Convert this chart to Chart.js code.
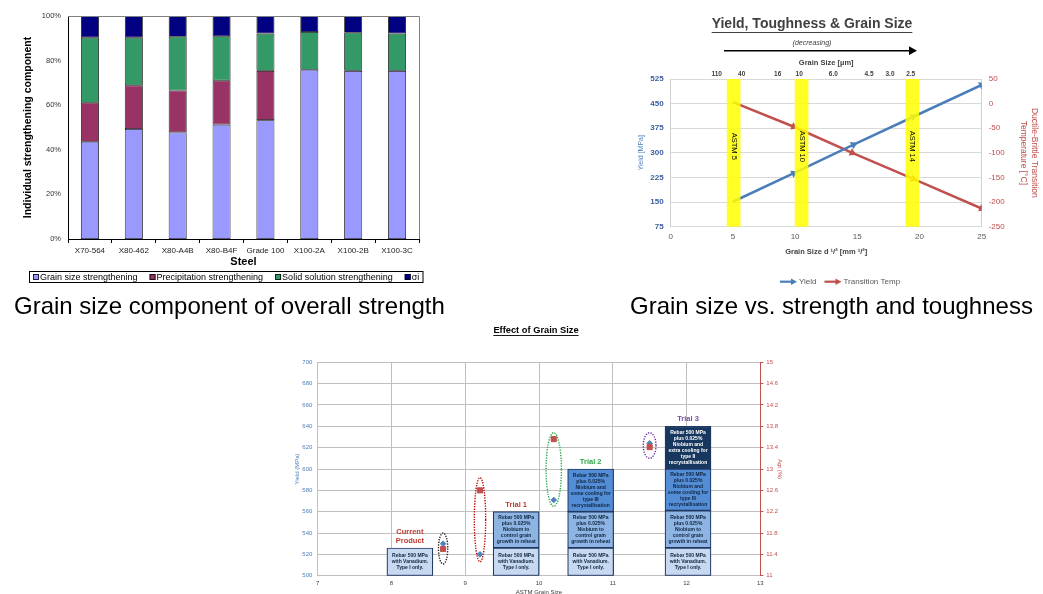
<!DOCTYPE html>
<html><head><meta charset="utf-8">
<script src="https://cdn.jsdelivr.net/npm/chart.js@4.4.1/dist/chart.umd.min.js"></script>
<style>
html,body{margin:0;padding:0;background:#fff;width:1043px;height:594px;overflow:hidden;position:relative;font-family:"Liberation Sans",Arial,sans-serif;}
canvas{position:absolute;}
.cap{position:absolute;font-size:24px;line-height:24px;white-space:nowrap;color:#000;}
</style></head><body>
<canvas id="c1" width="450" height="292" style="left:0;top:0"></canvas>
<canvas id="c2" width="423" height="292" style="left:620px;top:0"></canvas>
<canvas id="c3" width="510" height="280" style="left:280px;top:318px"></canvas>
<div class="cap" style="left:14px;top:294px">Grain size component of overall strength</div>
<div class="cap" style="left:630px;top:294px">Grain size vs. strength and toughness</div>
<script>
// ---------- Chart 1 data ----------
const steels = ['X70-564','X80-462','X80-A4B','X80-B4F','Grade 100','X100-2A','X100-2B','X100-3C'];
const grainSizeStr = [43.6, 49.3, 47.8, 51.3, 53.3, 75.9, 75.4, 75.4];
const precipStr    = [17.5, 19.6, 18.8, 19.7, 22.1, 0, 0, 0];
const solidSolStr  = [29.2, 21.4, 24.1, 19.9, 16.7, 16.9, 17.1, 16.7];
const sigmaI       = [9.7, 9.7, 9.3, 9.1, 7.9, 7.2, 7.5, 7.9];
const pctTicks     = [0, 20, 40, 60, 80, 100];

// ---------- Chart 2 data ----------
const yieldX     = [5, 9.9, 14.7, 19.5, 25];
const yieldMPa   = [151, 238, 325, 410, 507];
const ttX        = [5, 9.9, 14.6, 19.5, 25];
const transTemp  = [3, -47, -100, -153, -213];
const astmBandX  = [5.06, 10.52, 19.42];
const astmBandY  = [75, 525];
const astmBandLabels = ['ASTM 5', 'ASTM 10', 'ASTM 14'];
const grainUmPos    = [3.7, 5.71, 8.6, 10.33, 13.07, 15.94, 17.63, 19.29];
const grainUmLabels = ['110', '40', '16', '10', '6.0', '4.5', '3.0', '2.5'];

// ---------- Chart 3 data ----------
const trialX     = [8.25, 9.69, 10.70, 12.02];
const trialNames = [['Current', 'Product'], ['Trial 1'], ['Trial 2'], ['Trial 3']];
const level1 = [[500,526],[500,526],[500,526],[500,526]];
const level2 = [null,[526,560],[526,560],[526,561]];
const level3 = [null,null,[560,600],[561,600]];
const level4 = [null,null,null,[600,640]];
const levelText = [
  ['Rebar 500 MPa','with Vanadium.','Type I only.'],
  ['Rebar 500 MPa','plus 0.025%','Niobium to','control grain','growth in reheat'],
  ['Rebar 500 MPa','plus 0.025%','Niobium and','some cooling for','type III','recrystallisation'],
  ['Rebar 500 MPa','plus 0.025%','Niobium and','extra cooling for','type II','recrystallisation']
];
const pointX   = [8.7, 9.2, 10.2, 11.5];
const yieldPts = [530, 520, 571, 624];
const agtPts   = [11.5, 12.6, 13.56, 13.41];
const ringLow  = [511, 513, 565, 610];
const ringHigh = [540, 592, 634, 634];
const ringHalfW = [0.063, 0.077, 0.104, 0.086];

Chart.defaults.font.family = '"Liberation Sans", Arial, sans-serif';

// ================= Chart 1 =================
const c1Colors = ['#9999FF', '#993366', '#339966', '#000080'];
const legend1 = {
  id: 'legend1',
  afterDraw(chart) {
    const ctx = chart.ctx;
    ctx.save();
    ctx.strokeStyle = '#000'; ctx.lineWidth = 1;
    ctx.strokeRect(29.5, 271.5, 393.5, 11);
    ctx.font = '9px "Liberation Sans", Arial, sans-serif';
    ctx.textBaseline = 'middle';
    let x = 33; const y = 277;
    chart.data.datasets.forEach(ds => {
      ctx.fillStyle = ds.backgroundColor;
      ctx.fillRect(x, y - 3, 6, 6);
      ctx.strokeStyle = '#000'; ctx.lineWidth = 0.8;
      ctx.strokeRect(x + 0.5, y - 2.5, 5, 5);
      ctx.fillStyle = '#000';
      ctx.fillText(ds.label, x + 7, y + 0.5);
      x += 7 + ctx.measureText(ds.label).width + 12;
    });
    ctx.restore();
  }
};
const frame1 = {
  id: 'frame1',
  afterDraw(chart) {
    const a = chart.chartArea, ctx = chart.ctx;
    ctx.save(); ctx.strokeStyle = '#808080'; ctx.lineWidth = 1;
    ctx.beginPath();
    ctx.moveTo(a.left, a.top + 0.5); ctx.lineTo(a.right + 0.5, a.top + 0.5); ctx.lineTo(a.right + 0.5, a.bottom);
    ctx.stroke(); ctx.restore();
  }
};
new Chart(document.getElementById('c1'), {
  type: 'bar',
  data: { labels: steels, datasets: [
    { label: 'Grain size strengthening', data: grainSizeStr, backgroundColor: c1Colors[0] },
    { label: 'Precipitation strengthening', data: precipStr, backgroundColor: c1Colors[1] },
    { label: 'Solid solution strengthening', data: solidSolStr, backgroundColor: c1Colors[2] },
    { label: 'σi', data: sigmaI, backgroundColor: c1Colors[3] }
  ]},
  options: {
    responsive: false, animation: false,
    layout: { padding: { left: 22, right: 31, top: 16, bottom: 23 } },
    datasets: { bar: { borderColor: '#000', borderWidth: 0.8, borderSkipped: false, barPercentage: 0.41, categoryPercentage: 1 } },
    plugins: { legend: { display: false }, tooltip: { enabled: false } },
    scales: {
      x: { stacked: true, afterFit: s => { s.height = 30; },
        grid: { display: true, offset: true, drawOnChartArea: false, drawTicks: true, tickLength: 4, color: '#000' },
        border: { color: '#000' },
        ticks: { font: { size: 8 }, color: '#222', padding: 3, maxRotation: 0, autoSkip: false },
        title: { display: true, text: 'Steel', font: { size: 11, weight: 'bold' }, color: '#000', padding: 0 } },
      y: { stacked: true, min: 0, max: 100,
        afterBuildTicks: s => { s.ticks = pctTicks.map(v => ({ value: v })); },
        afterFit: s => { s.width = 46; },
        grid: { display: false, drawTicks: false }, border: { color: '#000' },
        ticks: { callback: v => v + '%', font: { size: 7.5 }, color: '#333', padding: 7 },
        title: { display: true, text: 'Individual strengthening component', font: { size: 10.5, weight: 'bold' }, color: '#000', padding: 0 } }
    }
  },
  plugins: [legend1, frame1]
});

// ================= Chart 2 =================
const blue2 = '#4A7EBB', red2 = '#C0504D';
function arrowRot(ctx) {
  const d = ctx.dataset.data, i = ctx.dataIndex;
  const j = i === 0 ? 1 : i;
  const xs = ctx.chart.scales.x, ys = ctx.chart.scales[ctx.dataset.yAxisID];
  const dx = xs.getPixelForValue(d[j].x) - xs.getPixelForValue(d[j-1].x);
  const dy = ys.getPixelForValue(d[j].y) - ys.getPixelForValue(d[j-1].y);
  return Math.atan2(dy, dx) * 180 / Math.PI + 90;
}
function drawArrow(ctx, x1, x2, y, color, lw, head) {
  ctx.save();
  ctx.strokeStyle = color; ctx.fillStyle = color; ctx.lineWidth = lw;
  ctx.beginPath(); ctx.moveTo(x1, y); ctx.lineTo(x2 - head * 0.6, y); ctx.stroke();
  ctx.beginPath(); ctx.moveTo(x2, y); ctx.lineTo(x2 - head, y - head * 0.55); ctx.lineTo(x2 - head, y + head * 0.55); ctx.closePath(); ctx.fill();
  ctx.restore();
}
const decor2 = {
  id: 'decor2',
  afterDraw(chart) {
    const ctx = chart.ctx;
    ctx.save();
    ctx.fillStyle = '#404040';
    ctx.font = 'bold 14px "Liberation Sans", Arial, sans-serif';
    ctx.textAlign = 'center'; ctx.textBaseline = 'middle';
    const title = 'Yield, Toughness & Grain Size';
    ctx.fillText(title, 192, 24);
    const w = ctx.measureText(title).width;
    ctx.strokeStyle = '#404040'; ctx.lineWidth = 1.2;
    ctx.beginPath(); ctx.moveTo(192 - w / 2, 32.5); ctx.lineTo(192 + w / 2, 32.5); ctx.stroke();
    ctx.font = 'italic 7px "Liberation Sans", Arial, sans-serif';
    ctx.fillText('(decreasing)', 192, 43);
    ctx.restore();
    drawArrow(ctx, 104, 297, 50.7, '#000', 1.6, 8);
    ctx.save();
    ctx.font = '8px "Liberation Sans", Arial, sans-serif';
    ctx.textBaseline = 'middle'; ctx.fillStyle = '#595959';
    let x = 160; const y = 281.7;
    chart.data.datasets.filter(d => d.type === 'line').forEach(ds => {
      drawArrow(ctx, x, x + 17, y, ds.borderColor, 2.2, 6);
      ctx.fillStyle = '#595959';
      ctx.fillText(ds.label, x + 19, y);
      x += 19 + ctx.measureText(ds.label).width + 8;
    });
    ctx.restore();
  },
  afterDatasetsDraw(chart) {
    const ctx = chart.ctx;
    const meta = chart.getDatasetMeta(0);
    const yv = chart.scales.yL.getPixelForValue(320);
    ctx.save();
    ctx.font = '7.5px "Liberation Sans", Arial, sans-serif';
    ctx.fillStyle = '#000'; ctx.textAlign = 'center'; ctx.textBaseline = 'middle';
    meta.data.forEach((el, i) => {
      ctx.save(); ctx.translate(el.x, yv); ctx.rotate(Math.PI / 2);
      ctx.fillText(astmBandLabels[i], 0, 0); ctx.restore();
    });
    ctx.restore();
  }
};
new Chart(document.getElementById('c2'), {
  type: 'scatter',
  data: { datasets: [
    { type: 'bar', label: 'ASTM', data: astmBandX.map(x => ({ x, y: astmBandY })), xAxisID: 'x', yAxisID: 'yL',
      backgroundColor: 'rgba(255,255,0,0.85)', borderWidth: 0, barThickness: 13, grouped: false, order: 0 },
    { type: 'line', label: 'Yield', data: yieldX.map((x, i) => ({ x, y: yieldMPa[i] })), xAxisID: 'x', yAxisID: 'yL',
      borderColor: blue2, backgroundColor: blue2, borderWidth: 2.5, pointStyle: 'triangle',
      pointRadius: c => c.dataIndex === 0 ? 0 : 4.5, pointBorderWidth: 0, pointRotation: arrowRot, order: 1 },
    { type: 'line', label: 'Transition Temp', data: ttX.map((x, i) => ({ x, y: transTemp[i] })), xAxisID: 'x', yAxisID: 'yR',
      borderColor: red2, backgroundColor: red2, borderWidth: 2.5, pointStyle: 'triangle',
      pointRadius: c => c.dataIndex === 0 ? 0 : 4.5, pointBorderWidth: 0, pointRotation: arrowRot, order: 2 }
  ]},
  options: {
    responsive: false, animation: false,
    layout: { padding: { left: 16.5, right: 3.9, top: 55, bottom: 31.3 } },
    plugins: { legend: { display: false }, tooltip: { enabled: false } },
    scales: {
      x: { type: 'linear', position: 'bottom', min: 0, max: 25, offset: false,
        grid: { display: false, drawTicks: false, offset: false }, border: { display: false },
        ticks: { stepSize: 5, font: { size: 8 }, color: '#595959', padding: 5 },
        title: { display: true, text: 'Grain Size d ¹/² [mm ¹/²]', font: { size: 7.5, weight: 'bold' }, color: '#404040', padding: { top: 0, bottom: 4 } },
        afterFit: s => { s.height = 34; } },
      xTop: { type: 'linear', position: 'top', min: 0, max: 25, offset: false,
        grid: { display: false, drawTicks: false, offset: false }, border: { display: false },
        afterBuildTicks: s => { s.ticks = grainUmPos.map(v => ({ value: v })); },
        ticks: { autoSkip: false, maxRotation: 0, callback: (v, i) => grainUmLabels[i], font: { size: 6.5, weight: 'bold' }, color: '#404040', padding: 1 },
        title: { display: true, text: 'Grain Size [µm]', font: { size: 7.5, weight: 'bold' }, color: '#404040', padding: { top: 3, bottom: 0 } },
        afterFit: s => { s.height = 24; } },
      yL: { type: 'linear', position: 'left', min: 75, max: 525,
        ticks: { stepSize: 75, font: { size: 8, weight: 'bold' }, color: '#3B5E9E', padding: 7 },
        grid: { color: '#D9D9D9', drawTicks: false }, border: { color: '#D0D0D0' },
        title: { display: true, text: 'Yield [MPa]', font: { size: 7 }, color: blue2, padding: 0 },
        afterFit: s => { s.width = 34.2; } },
      yR: { type: 'linear', position: 'right', min: -250, max: 50,
        ticks: { stepSize: 50, font: { size: 8 }, color: red2, padding: 7 },
        grid: { display: false, drawTicks: false }, border: { color: '#D0D0D0' },
        title: { display: true, text: ['Ductile-Brittle Transition', 'Temperature [°C]'], font: { size: 8.5 }, color: red2, padding: 0 },
        afterFit: s => { s.width = 57.4; } }
    }
  },
  plugins: [decor2]
});

// ================= Chart 3 =================
const levelFill = ['#C6D9F1', '#8DB4E2', '#538DD5', '#17375E'];
const levelInk  = ['#10253F', '#10253F', '#10253F', '#FFFFFF'];
const trialColors = ['#C0392B', '#C0392B', '#2EA84A', '#7A4FA8'];
const ringColors  = ['#222222', '#C00000', '#2EA84A', '#7030A0'];
const levels = [level1, level2, level3, level4];
const barSets = levels.map((lv, k) => ({
  type: 'bar', label: 'Level ' + (k + 1),
  data: lv.map((r, i) => r ? { x: trialX[i], y: r } : null).filter(Boolean),
  backgroundColor: levelFill[k], borderColor: '#1F3864', borderWidth: 1.2, borderSkipped: false,
  barThickness: 46, grouped: false, order: 5, xAxisID: 'x', yAxisID: 'y'
}));
const decor3 = {
  id: 'decor3',
  afterDatasetsDraw(chart) {
    const ctx = chart.ctx, xs = chart.scales.x, ys = chart.scales.y;
    ctx.save();
    ctx.textAlign = 'center'; ctx.textBaseline = 'middle';
    ctx.font = 'bold 5px "Liberation Sans", Arial, sans-serif';
    levels.forEach((lv, k) => {
      const meta = chart.getDatasetMeta(k);
      meta.data.forEach(el => {
        const lines = levelText[k];
        const cy = (el.y + el.base) / 2, lh = 6;
        ctx.fillStyle = levelInk[k];
        lines.forEach((t, j) => ctx.fillText(t, el.x, cy + (j - (lines.length - 1) / 2) * lh));
      });
    });
    ctx.font = 'bold 7.5px "Liberation Sans", Arial, sans-serif';
    trialX.forEach((tx, i) => {
      const top = Math.max(...levels.map(lv => lv[i] ? lv[i][1] : -Infinity));
      const py = ys.getPixelForValue(top) - 7;
      const lines = trialNames[i];
      ctx.fillStyle = trialColors[i];
      lines.forEach((t, j) => ctx.fillText(t, xs.getPixelForValue(tx), py - (lines.length - 1 - j) * 9));
    });
    ctx.lineWidth = 1.4; ctx.setLineDash([1.3, 1.3]);
    pointX.forEach((px, i) => {
      const cx = xs.getPixelForValue(px);
      const yTop = ys.getPixelForValue(ringHigh[i]), yBot = ys.getPixelForValue(ringLow[i]);
      const rx = xs.getPixelForValue(px + ringHalfW[i]) - cx;
      ctx.strokeStyle = ringColors[i];
      ctx.beginPath(); ctx.ellipse(cx, (yTop + yBot) / 2, rx, (yBot - yTop) / 2, 0, 0, Math.PI * 2); ctx.stroke();
    });
    ctx.setLineDash([]);
    ctx.fillStyle = '#000';
    ctx.font = 'bold 9.3px "Liberation Sans", Arial, sans-serif';
    const title = 'Effect of Grain Size';
    ctx.fillText(title, 256, 12);
    const w = ctx.measureText(title).width;
    ctx.strokeStyle = '#000'; ctx.lineWidth = 0.9;
    ctx.beginPath(); ctx.moveTo(256 - w / 2, 17.5); ctx.lineTo(256 + w / 2, 17.5); ctx.stroke();
    ctx.restore();
  }
};
new Chart(document.getElementById('c3'), {
  type: 'scatter',
  data: { datasets: [
    ...barSets,
    { label: 'Yield', data: pointX.map((x, i) => ({ x, y: yieldPts[i] })), xAxisID: 'x', yAxisID: 'y',
      pointStyle: 'rectRot', pointRadius: 2.8, backgroundColor: '#4F81BD', borderColor: '#4F81BD', order: 1 },
    { label: 'Agt', data: pointX.map((x, i) => ({ x, y: agtPts[i] })), xAxisID: 'x', yAxisID: 'y2',
      pointStyle: 'rect', pointRadius: 3.6, backgroundColor: '#C0504D', borderColor: '#C0504D', order: 0 }
  ]},
  options: {
    responsive: false, animation: false,
    layout: { padding: { left: 14, right: 6.4, top: 44.3, bottom: 2 } },
    plugins: { legend: { display: false }, tooltip: { enabled: false } },
    scales: {
      x: { type: 'linear', min: 7, max: 13, offset: false,
        ticks: { stepSize: 1, font: { size: 6 }, color: '#404040', padding: 4 },
        grid: { color: '#BFBFBF', drawTicks: false, offset: false }, border: { display: false },
        title: { display: true, text: 'ASTM Grain Size', font: { size: 6 }, color: '#404040', padding: { top: 0, bottom: 0 } },
        afterFit: s => { s.height = 20.3; } },
      y: { type: 'linear', position: 'left', min: 500, max: 700,
        ticks: { stepSize: 20, font: { size: 6 }, color: '#4F81BD', padding: 5.4 },
        grid: { color: '#BFBFBF', drawTicks: false }, border: { color: '#BFBFBF' },
        title: { display: true, text: 'Yield (MPa)', font: { size: 6 }, color: '#4F81BD', padding: 0 },
        afterFit: s => { s.width = 23.7; } },
      y2: { type: 'linear', position: 'right', min: 11, max: 15,
        ticks: { stepSize: 0.4, callback: v => String(Math.round(v * 10) / 10), font: { size: 6 }, color: '#C0504D', padding: 3 },
        grid: { drawOnChartArea: false, drawTicks: true, tickLength: 3, color: '#C0504D' }, border: { color: '#C0504D' },
        title: { display: true, text: 'Agt (%)', font: { size: 6 }, color: '#C0504D', padding: 0 },
        afterFit: s => { s.width = 23.3; } }
    }
  },
  plugins: [decor3]
});
</script>
</body></html>
